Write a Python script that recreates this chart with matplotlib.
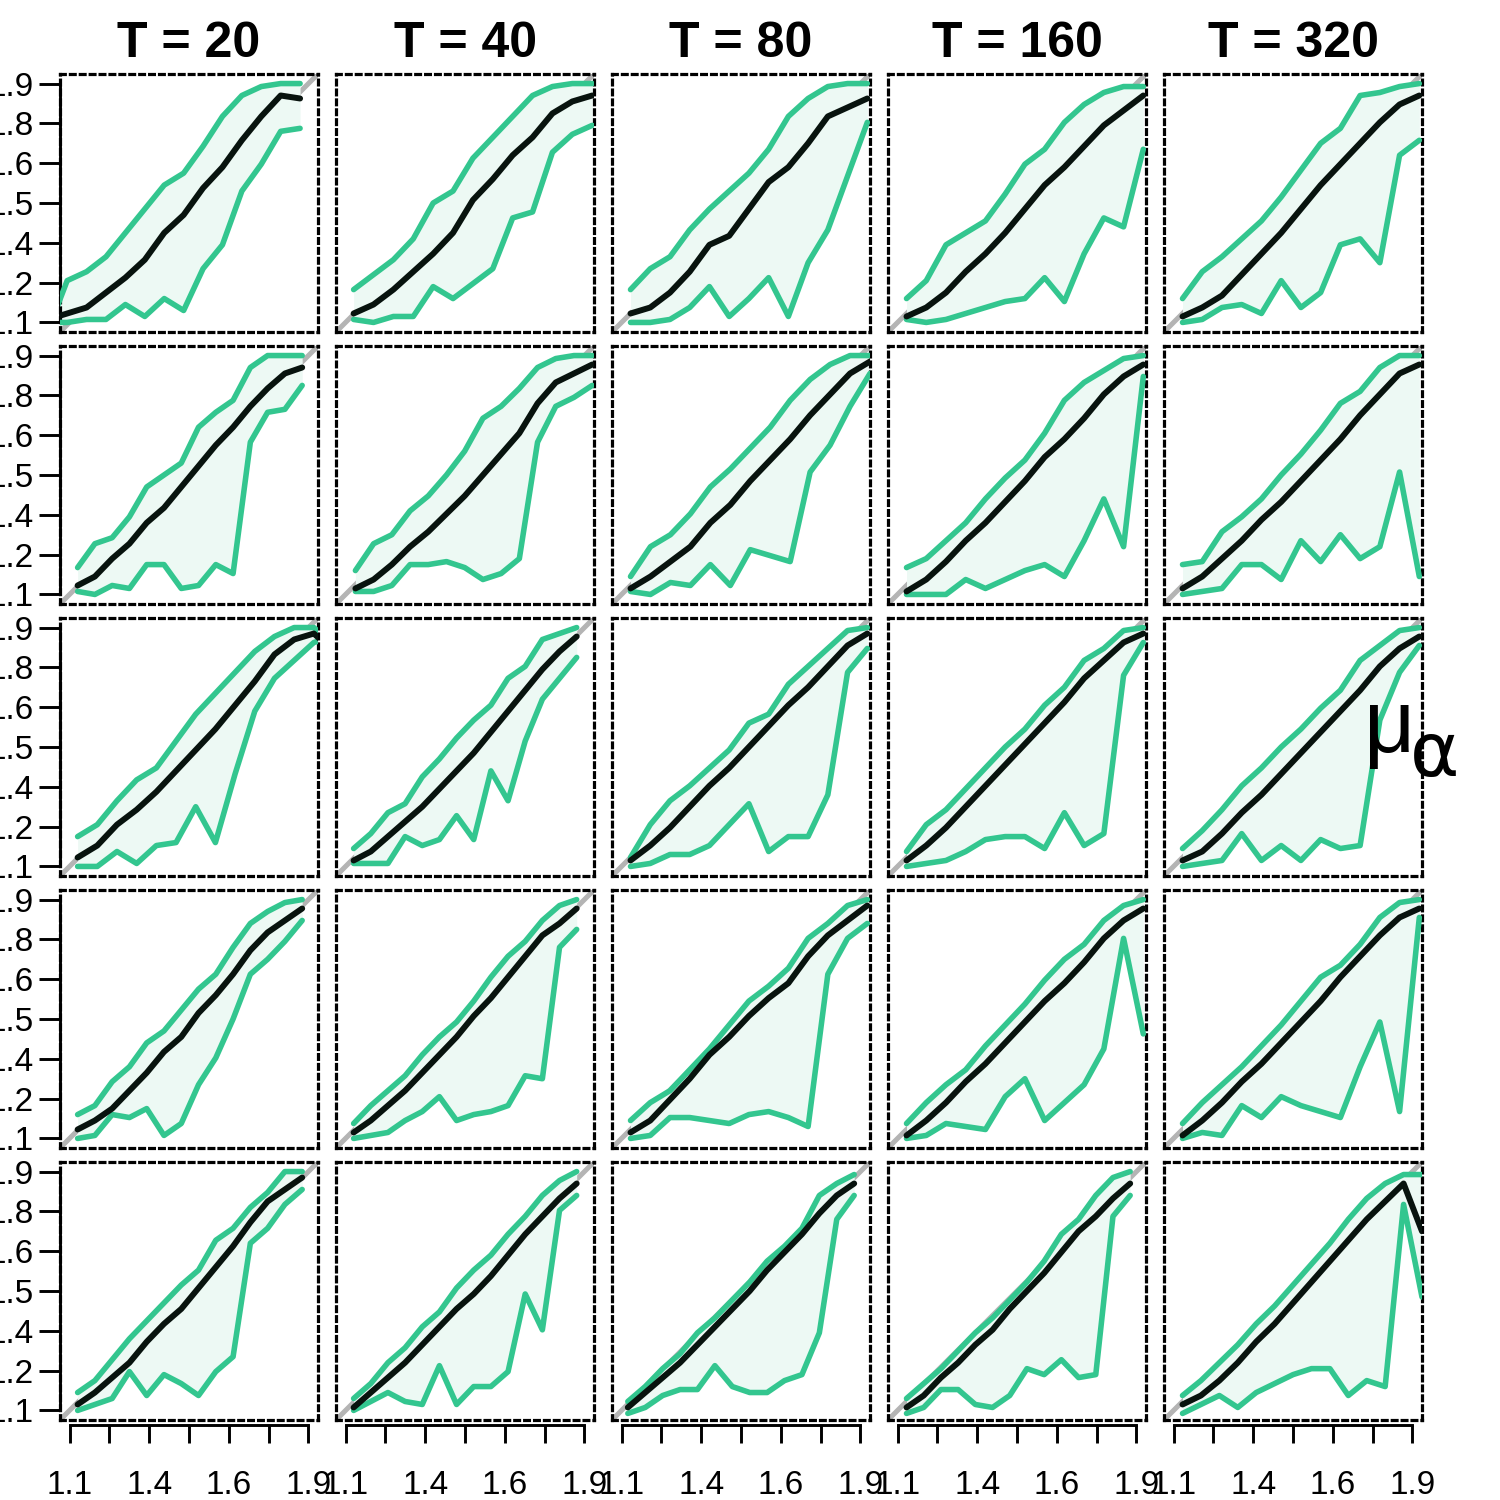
import numpy as np
import matplotlib
matplotlib.use("Agg")
import matplotlib.pyplot as plt

plt.rcParams['font.family'] = ['Liberation Sans', 'DejaVu Sans']

T_VALUES = [20, 40, 80, 160, 320]

# first / last bin centre of each panel, columns T = 20 ... 320
ROW1_XSPAN = [(1.027, 1.872), (1.127, 1.926), (1.130, 1.923), (1.130, 1.923), (1.130, 1.923)]
ROW1_UPPER = [
    [1.07, 1.24, 1.27, 1.32, 1.40, 1.48, 1.56, 1.60, 1.69, 1.79, 1.86, 1.89, 1.90, 1.90],
    [1.21, 1.26, 1.31, 1.38, 1.50, 1.54, 1.65, 1.72, 1.79, 1.86, 1.89, 1.90, 1.90],
    [1.21, 1.28, 1.32, 1.41, 1.48, 1.54, 1.60, 1.68, 1.79, 1.85, 1.89, 1.90, 1.90],
    [1.18, 1.24, 1.36, 1.40, 1.44, 1.53, 1.63, 1.68, 1.77, 1.83, 1.87, 1.89, 1.89],
    [1.18, 1.27, 1.32, 1.38, 1.44, 1.52, 1.61, 1.70, 1.75, 1.86, 1.87, 1.89, 1.90],
]
ROW1_MEDIAN = [
    [1.11, 1.13, 1.15, 1.20, 1.25, 1.31, 1.40, 1.46, 1.55, 1.62, 1.71, 1.79, 1.86, 1.85],
    [1.13, 1.16, 1.21, 1.27, 1.33, 1.40, 1.51, 1.58, 1.66, 1.72, 1.80, 1.84, 1.86],
    [1.13, 1.15, 1.20, 1.27, 1.36, 1.39, 1.48, 1.57, 1.62, 1.70, 1.79, 1.82, 1.85],
    [1.12, 1.15, 1.20, 1.27, 1.33, 1.40, 1.48, 1.56, 1.62, 1.69, 1.76, 1.81, 1.86],
    [1.12, 1.15, 1.19, 1.26, 1.33, 1.40, 1.48, 1.56, 1.63, 1.70, 1.77, 1.83, 1.86],
]
ROW1_LOWER = [
    [1.10, 1.10, 1.11, 1.11, 1.16, 1.12, 1.18, 1.14, 1.28, 1.36, 1.54, 1.63, 1.74, 1.75],
    [1.11, 1.10, 1.12, 1.12, 1.22, 1.18, 1.23, 1.28, 1.45, 1.47, 1.67, 1.73, 1.76],
    [1.10, 1.10, 1.11, 1.15, 1.22, 1.12, 1.18, 1.25, 1.12, 1.30, 1.41, 1.59, 1.77],
    [1.11, 1.10, 1.11, 1.13, 1.15, 1.17, 1.18, 1.25, 1.17, 1.33, 1.45, 1.42, 1.68],
    [1.10, 1.11, 1.15, 1.16, 1.13, 1.24, 1.15, 1.20, 1.36, 1.38, 1.30, 1.66, 1.71],
]

ROW2_XSPAN = [(1.127, 1.879), (1.133, 1.926), (1.130, 1.932), (1.130, 1.923), (1.130, 1.923)]
ROW2_UPPER = [
    [1.19, 1.27, 1.29, 1.36, 1.46, 1.50, 1.54, 1.66, 1.71, 1.75, 1.86, 1.90, 1.90, 1.90],
    [1.18, 1.27, 1.30, 1.38, 1.43, 1.50, 1.58, 1.69, 1.73, 1.79, 1.86, 1.89, 1.90, 1.90],
    [1.16, 1.26, 1.30, 1.37, 1.46, 1.52, 1.59, 1.66, 1.75, 1.82, 1.87, 1.90, 1.90],
    [1.19, 1.22, 1.28, 1.34, 1.42, 1.49, 1.55, 1.64, 1.75, 1.81, 1.85, 1.89, 1.90],
    [1.20, 1.21, 1.31, 1.36, 1.42, 1.50, 1.57, 1.65, 1.74, 1.78, 1.86, 1.90, 1.90],
]
ROW2_MEDIAN = [
    [1.13, 1.16, 1.22, 1.27, 1.34, 1.39, 1.46, 1.53, 1.60, 1.66, 1.73, 1.79, 1.84, 1.86],
    [1.12, 1.15, 1.20, 1.26, 1.31, 1.37, 1.43, 1.50, 1.57, 1.64, 1.74, 1.81, 1.84, 1.87],
    [1.12, 1.16, 1.21, 1.26, 1.34, 1.40, 1.48, 1.55, 1.62, 1.70, 1.77, 1.84, 1.88],
    [1.11, 1.15, 1.21, 1.28, 1.34, 1.41, 1.48, 1.56, 1.62, 1.69, 1.77, 1.83, 1.87],
    [1.12, 1.16, 1.22, 1.28, 1.35, 1.41, 1.48, 1.55, 1.62, 1.70, 1.77, 1.84, 1.87],
]
ROW2_LOWER = [
    [1.11, 1.10, 1.13, 1.12, 1.20, 1.20, 1.12, 1.13, 1.20, 1.17, 1.61, 1.71, 1.72, 1.80],
    [1.11, 1.11, 1.13, 1.20, 1.20, 1.21, 1.19, 1.15, 1.17, 1.22, 1.61, 1.73, 1.76, 1.80],
    [1.11, 1.10, 1.14, 1.13, 1.20, 1.13, 1.25, 1.23, 1.21, 1.51, 1.60, 1.73, 1.84],
    [1.10, 1.10, 1.10, 1.15, 1.12, 1.15, 1.18, 1.20, 1.16, 1.28, 1.42, 1.26, 1.83],
    [1.10, 1.11, 1.12, 1.20, 1.20, 1.15, 1.28, 1.21, 1.30, 1.22, 1.26, 1.51, 1.16],
]

ROW3_XSPAN = [(1.127, 1.984), (1.127, 1.874), (1.130, 1.923), (1.130, 1.923), (1.130, 1.923)]
ROW3_UPPER = [
    [1.20, 1.24, 1.32, 1.39, 1.43, 1.52, 1.61, 1.68, 1.75, 1.82, 1.87, 1.90, 1.90, 1.84],
    [1.16, 1.21, 1.28, 1.31, 1.40, 1.46, 1.53, 1.59, 1.64, 1.73, 1.77, 1.86, 1.88, 1.90],
    [1.13, 1.24, 1.32, 1.37, 1.43, 1.49, 1.58, 1.61, 1.71, 1.77, 1.83, 1.89, 1.90],
    [1.15, 1.24, 1.29, 1.36, 1.43, 1.50, 1.56, 1.64, 1.70, 1.79, 1.83, 1.89, 1.90],
    [1.16, 1.22, 1.29, 1.37, 1.43, 1.50, 1.56, 1.63, 1.69, 1.79, 1.84, 1.89, 1.90],
]
ROW3_MEDIAN = [
    [1.13, 1.17, 1.24, 1.29, 1.35, 1.42, 1.49, 1.56, 1.64, 1.72, 1.81, 1.86, 1.88, 1.82],
    [1.12, 1.15, 1.20, 1.25, 1.30, 1.36, 1.42, 1.48, 1.55, 1.62, 1.69, 1.76, 1.82, 1.87],
    [1.12, 1.17, 1.23, 1.30, 1.37, 1.43, 1.50, 1.57, 1.64, 1.70, 1.77, 1.84, 1.88],
    [1.12, 1.17, 1.23, 1.30, 1.37, 1.44, 1.51, 1.58, 1.65, 1.73, 1.79, 1.85, 1.88],
    [1.12, 1.15, 1.21, 1.28, 1.34, 1.41, 1.48, 1.55, 1.62, 1.69, 1.77, 1.83, 1.87],
]
ROW3_LOWER = [
    [1.10, 1.10, 1.15, 1.11, 1.17, 1.18, 1.30, 1.18, 1.41, 1.62, 1.73, 1.79, 1.85, 1.87],
    [1.11, 1.11, 1.11, 1.20, 1.17, 1.19, 1.27, 1.19, 1.42, 1.32, 1.52, 1.66, 1.73, 1.80],
    [1.10, 1.11, 1.14, 1.14, 1.17, 1.24, 1.31, 1.15, 1.20, 1.20, 1.34, 1.75, 1.83],
    [1.10, 1.11, 1.12, 1.15, 1.19, 1.20, 1.20, 1.16, 1.28, 1.17, 1.21, 1.74, 1.85],
    [1.10, 1.11, 1.12, 1.21, 1.12, 1.17, 1.12, 1.19, 1.16, 1.17, 1.59, 1.75, 1.84],
]

ROW4_XSPAN = [(1.127, 1.879), (1.127, 1.874), (1.130, 1.923), (1.130, 1.923), (1.130, 1.923)]
ROW4_UPPER = [
    [1.18, 1.21, 1.29, 1.34, 1.42, 1.46, 1.53, 1.60, 1.65, 1.74, 1.82, 1.86, 1.89, 1.90],
    [1.15, 1.21, 1.26, 1.31, 1.38, 1.44, 1.49, 1.56, 1.64, 1.71, 1.76, 1.83, 1.88, 1.90],
    [1.16, 1.22, 1.26, 1.33, 1.40, 1.48, 1.56, 1.61, 1.67, 1.77, 1.82, 1.88, 1.90],
    [1.15, 1.22, 1.28, 1.33, 1.41, 1.48, 1.55, 1.63, 1.70, 1.75, 1.83, 1.88, 1.90],
    [1.15, 1.22, 1.28, 1.34, 1.41, 1.48, 1.56, 1.64, 1.68, 1.75, 1.84, 1.89, 1.90],
]
ROW4_MEDIAN = [
    [1.13, 1.16, 1.20, 1.26, 1.32, 1.39, 1.44, 1.52, 1.58, 1.65, 1.73, 1.79, 1.83, 1.87],
    [1.12, 1.16, 1.21, 1.26, 1.32, 1.38, 1.44, 1.51, 1.57, 1.64, 1.71, 1.78, 1.82, 1.87],
    [1.12, 1.16, 1.23, 1.30, 1.38, 1.44, 1.51, 1.57, 1.62, 1.71, 1.78, 1.83, 1.88],
    [1.11, 1.16, 1.22, 1.29, 1.35, 1.42, 1.49, 1.56, 1.62, 1.69, 1.77, 1.83, 1.87],
    [1.11, 1.16, 1.22, 1.29, 1.35, 1.42, 1.49, 1.56, 1.64, 1.71, 1.78, 1.84, 1.87],
]
ROW4_LOWER = [
    [1.10, 1.11, 1.18, 1.17, 1.20, 1.11, 1.15, 1.28, 1.37, 1.50, 1.65, 1.70, 1.76, 1.83],
    [1.10, 1.11, 1.12, 1.16, 1.19, 1.24, 1.16, 1.18, 1.19, 1.21, 1.31, 1.30, 1.74, 1.80],
    [1.10, 1.11, 1.17, 1.17, 1.16, 1.15, 1.18, 1.19, 1.17, 1.14, 1.65, 1.77, 1.82],
    [1.10, 1.11, 1.15, 1.14, 1.13, 1.24, 1.30, 1.16, 1.22, 1.28, 1.40, 1.77, 1.45],
    [1.10, 1.12, 1.11, 1.21, 1.17, 1.24, 1.21, 1.19, 1.17, 1.34, 1.49, 1.19, 1.84],
]

ROW5_XSPAN = [(1.127, 1.879), (1.127, 1.874), (1.121, 1.879), (1.130, 1.879), (1.130, 1.932)]
ROW5_UPPER = [
    [1.16, 1.20, 1.27, 1.34, 1.40, 1.46, 1.52, 1.57, 1.67, 1.71, 1.78, 1.83, 1.90, 1.90],
    [1.14, 1.19, 1.26, 1.31, 1.38, 1.43, 1.51, 1.57, 1.62, 1.69, 1.75, 1.82, 1.87, 1.90],
    [1.13, 1.18, 1.24, 1.29, 1.36, 1.41, 1.47, 1.53, 1.60, 1.65, 1.71, 1.82, 1.86, 1.89],
    [1.14, 1.19, 1.24, 1.30, 1.36, 1.41, 1.47, 1.53, 1.60, 1.69, 1.74, 1.82, 1.88, 1.90],
    [1.15, 1.20, 1.26, 1.32, 1.39, 1.45, 1.52, 1.59, 1.66, 1.74, 1.81, 1.86, 1.89, 1.89],
]
ROW5_MEDIAN = [
    [1.12, 1.16, 1.21, 1.26, 1.33, 1.39, 1.44, 1.51, 1.58, 1.65, 1.73, 1.80, 1.84, 1.88],
    [1.11, 1.16, 1.21, 1.26, 1.32, 1.38, 1.44, 1.49, 1.55, 1.62, 1.69, 1.75, 1.81, 1.86],
    [1.11, 1.16, 1.21, 1.26, 1.32, 1.38, 1.44, 1.50, 1.57, 1.63, 1.69, 1.76, 1.82, 1.86],
    [1.11, 1.15, 1.21, 1.26, 1.32, 1.37, 1.44, 1.50, 1.56, 1.63, 1.70, 1.75, 1.81, 1.86],
    [1.12, 1.15, 1.20, 1.26, 1.33, 1.39, 1.46, 1.53, 1.60, 1.67, 1.74, 1.80, 1.86, 1.70],
]
ROW5_LOWER = [
    [1.10, 1.12, 1.14, 1.23, 1.15, 1.22, 1.19, 1.15, 1.23, 1.28, 1.66, 1.71, 1.79, 1.84],
    [1.10, 1.13, 1.16, 1.13, 1.12, 1.25, 1.12, 1.18, 1.18, 1.23, 1.49, 1.37, 1.77, 1.82],
    [1.09, 1.11, 1.15, 1.17, 1.17, 1.25, 1.18, 1.16, 1.16, 1.20, 1.22, 1.36, 1.74, 1.82],
    [1.09, 1.11, 1.17, 1.17, 1.12, 1.11, 1.15, 1.24, 1.22, 1.27, 1.21, 1.22, 1.75, 1.82],
    [1.09, 1.12, 1.15, 1.11, 1.16, 1.19, 1.22, 1.24, 1.24, 1.15, 1.20, 1.18, 1.79, 1.48],
]

ROWS = [
    (ROW1_XSPAN, ROW1_UPPER, ROW1_MEDIAN, ROW1_LOWER),
    (ROW2_XSPAN, ROW2_UPPER, ROW2_MEDIAN, ROW2_LOWER),
    (ROW3_XSPAN, ROW3_UPPER, ROW3_MEDIAN, ROW3_LOWER),
    (ROW4_XSPAN, ROW4_UPPER, ROW4_MEDIAN, ROW4_LOWER),
    (ROW5_XSPAN, ROW5_UPPER, ROW5_MEDIAN, ROW5_LOWER),
]

GREEN = '#33c68f'
BAND = '#edf9f4'
DARK = '#08130e'
DIAG = '#b4b4b4'

W = 1500.0
LIM = (1.068, 1.932)
ticks = np.linspace(1.1, 1.9, 7)
box_dash = (0, (1.5, 1.6))

fig = plt.figure(figsize=(15, 15), dpi=100)

for r, (spans, ups, meds, lows) in enumerate(ROWS):
    for c in range(5):
        ax = fig.add_axes([(60 + 276 * c) / W, 1 - (74 + 272 * r + 258) / W, 258 / W, 258 / W])
        up = np.array(ups[c])
        md = np.array(meds[c])
        lo = np.array(lows[c])
        x = np.linspace(spans[c][0], spans[c][1], len(up))

        ax.axline((1.1, 1.1), slope=1, color=DIAG, lw=3.6, zorder=1)
        ax.fill_between(x, lo, up, color=BAND, lw=0, zorder=2)
        for yy in (up, lo):
            ax.plot(x, yy, color=GREEN, lw=4.0, solid_joinstyle='round',
                    solid_capstyle='round', zorder=3)
        ax.plot(x, md, color=DARK, lw=4.3, solid_joinstyle='round',
                solid_capstyle='round', zorder=4)

        ax.set_xlim(LIM)
        ax.set_ylim(LIM)
        ax.set_xticks([])
        ax.set_yticks([])
        for s in ax.spines.values():
            s.set_linestyle(box_dash)
            s.set_linewidth(2.3)

        if c == 0:
            sy = ax.secondary_yaxis('left')
            sy.set_ticks(ticks, labels=[f"{t:.1f}" for t in ticks])
            sy.spines['left'].set_bounds(1.1, 1.9)
            sy.spines['left'].set_linewidth(2.1)
            sy.tick_params(length=15, width=2.1, labelsize=24, pad=4)
        if r == 4:
            sx = ax.secondary_xaxis(-0.02)
            sx.set_ticks(ticks, labels=[f"{t:.1f}" if i % 2 == 0 else "" for i, t in enumerate(ticks)])
            sx.spines['bottom'].set_bounds(1.1, 1.9)
            sx.spines['bottom'].set_linewidth(2.1)
            sx.tick_params(length=13, width=2.1, labelsize=24, pad=19)

        if r == 0:
            ax.set_title(f"T = {T_VALUES[c]}", fontsize=36, fontweight='bold', pad=12)

fig.text(1364 / W, 1 - 752 / W, "μ", fontsize=64, ha='left', va='baseline')
fig.text(1410 / W, 1 - 776 / W, "α", fontsize=54, ha='left', va='baseline',
         family=['DejaVu Sans'])

fig.savefig("out.png", dpi=100, facecolor='white')
